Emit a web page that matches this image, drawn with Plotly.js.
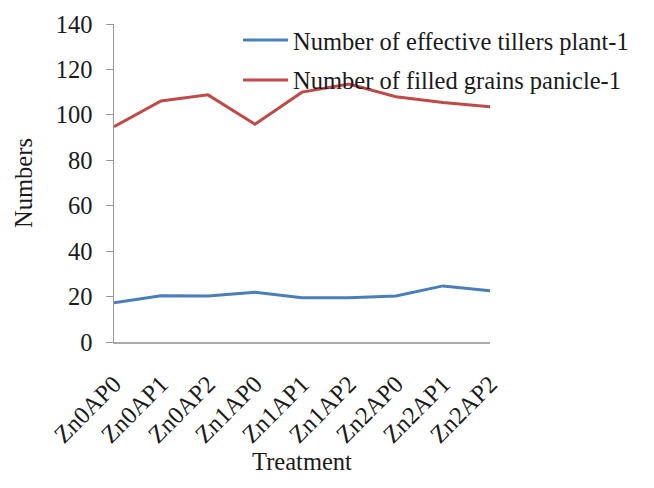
<!DOCTYPE html>
<html>
<head>
<meta charset="utf-8">
<script src="https://cdn.plot.ly/plotly-3.0.1.min.js"></script>
<style>html,body{margin:0;padding:0;background:#fff;}#chart{width:654px;height:488px;}</style>
</head>
<body>
<div id="chart"></div>
<script>
const categories = ["Zn0AP0","Zn0AP1","Zn0AP2","Zn1AP0","Zn1AP1","Zn1AP2","Zn2AP0","Zn2AP1","Zn2AP2"];
const tillers = [17.3, 20.4, 20.3, 21.9, 19.5, 19.5, 20.3, 24.7, 22.6];
const grains = [94.8, 106.1, 108.8, 95.9, 110.0, 113.6, 108.0, 105.4, 103.6];
const seriesNames = ["Number of effective tillers plant-1", "Number of filled grains panicle-1"];
const yTicks = [0, 20, 40, 60, 80, 100, 120, 140];

const font = "Liberation Serif, Times New Roman, serif";
const fs = 24.5;
const traces = [
  {x: categories, y: tillers, name: seriesNames[0], type: "scatter", mode: "lines",
   line: {color: "#4a7ebb", width: 3}, legendgroup: "a"},
  {x: categories, y: grains, name: seriesNames[1], type: "scatter", mode: "lines",
   line: {color: "#be4b48", width: 3}, legendgroup: "b"}
];
const layout = {
  width: 654, height: 488,
  margin: {l: 114, r: 164, t: 24, b: 146},
  paper_bgcolor: "#fff", plot_bgcolor: "#fff",
  font: {family: font, size: fs, color: "#1a1a1a"},
  showlegend: true,
  legend: {x: 0.33, y: 1.02, xanchor: "left", yanchor: "top", bgcolor: "rgba(0,0,0,0)",
           font: {family: font, size: fs, color: "#1a1a1a"}, itemwidth: 45, tracegroupgap: 5,
           traceorder: "grouped"},
  xaxis: {type: "category", range: [0, 8], showgrid: false, zeroline: false,
          showline: true, linecolor: "#aaa", linewidth: 2, tickangle: -45,
          ticks: "", ticklabelstandoff: 16, tickfont: {family: font, size: fs, color: "#1a1a1a"},
          title: {text: "Treatment", font: {family: font, size: fs, color: "#1a1a1a"}, standoff: 6}},
  yaxis: {range: [0, 140], tickvals: yTicks, showgrid: false, zeroline: false,
          showline: true, linecolor: "#999", linewidth: 1.5, ticks: "outside", ticklen: 7,
          tickcolor: "#999", ticklabelstandoff: 8,
          tickfont: {family: font, size: fs, color: "#1a1a1a"},
          title: {text: "Numbers", font: {family: font, size: fs, color: "#1a1a1a"}, standoff: 16}}
};
Plotly.newPlot("chart", traces, layout, {displayModeBar: false, staticPlot: true});
</script>
</body>
</html>
